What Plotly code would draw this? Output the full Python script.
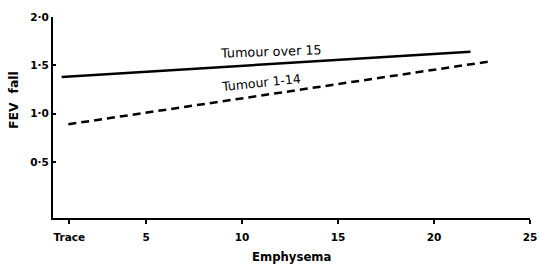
import plotly.graph_objects as go

# Data
over15_x = [0.6, 21.9]
over15_y = [1.38, 1.64]
mid_x = [0.95, 22.9]
mid_y = [0.89, 1.54]

x_tickvals = [1, 5, 10, 15, 20, 25]
x_ticktext = ["Trace", "5", "10", "15", "20", "25"]
y_tickvals = [0.5, 1.0, 1.5, 2.0]
y_ticktext = ["0·5", "1·0", "1·5", "2·0"]

font_family = "DejaVu Sans"
bold11 = dict(size=11.7, color="black", weight="bold", family=font_family)

fig = go.Figure()
fig.add_trace(go.Scatter(x=over15_x, y=over15_y, mode="lines",
                         line=dict(color="black", width=2.5), showlegend=False))
fig.add_trace(go.Scatter(x=mid_x, y=mid_y, mode="lines",
                         line=dict(color="black", width=2.5, dash="8px,5px"), showlegend=False))

fig.add_annotation(x=11.5, y=1.64, text="Tumour over 15", showarrow=False,
                   textangle=-2, font=dict(size=12.8, color="black", family=font_family))
fig.add_annotation(x=11.0, y=1.32, text="Tumour 1-14", showarrow=False,
                   textangle=-6, font=dict(size=12.5, color="black", family=font_family))

# axis titles
fig.add_annotation(xref="paper", yref="paper", x=0.5, y=0, yshift=-39,
                   xanchor="center", yanchor="middle",
                   text="Emphysema", showarrow=False, font=bold11)
fig.add_annotation(xref="paper", yref="paper", x=0, y=0.587, xshift=-40,
                   xanchor="center", yanchor="middle",
                   text="FEV\u00a0 fall", textangle=-90, showarrow=False,
                   font=dict(size=12.5, color="black", weight="bold", family=font_family))

fig.update_layout(
    width=539, height=266,
    margin=dict(l=53, r=9, t=17, b=48),
    paper_bgcolor="white", plot_bgcolor="white",
    font=dict(family=font_family, color="black", size=11),
    xaxis=dict(range=[0.15, 25], tickvals=x_tickvals, ticktext=x_ticktext,
               showgrid=False, zeroline=False, showline=True, linecolor="black",
               linewidth=2, ticks="outside", ticklen=4, tickwidth=2, tickcolor="black",
               automargin=False, ticklabelstandoff=4,
               tickfont=dict(size=10.5, color="black", weight="bold")),
    yaxis=dict(range=[-0.08, 2.0], tickvals=y_tickvals, ticktext=y_ticktext,
               showgrid=False, zeroline=False, showline=True, linecolor="black",
               linewidth=2, ticks="inside", ticklen=3, tickwidth=1.5, tickcolor="black",
               automargin=False,
               tickfont=dict(size=10.5, color="black", weight="bold")),
)

fig.write_html("out.html", config={"displayModeBar": False},
               post_script="document.body.style.margin='0';document.body.style.overflow='hidden';")
